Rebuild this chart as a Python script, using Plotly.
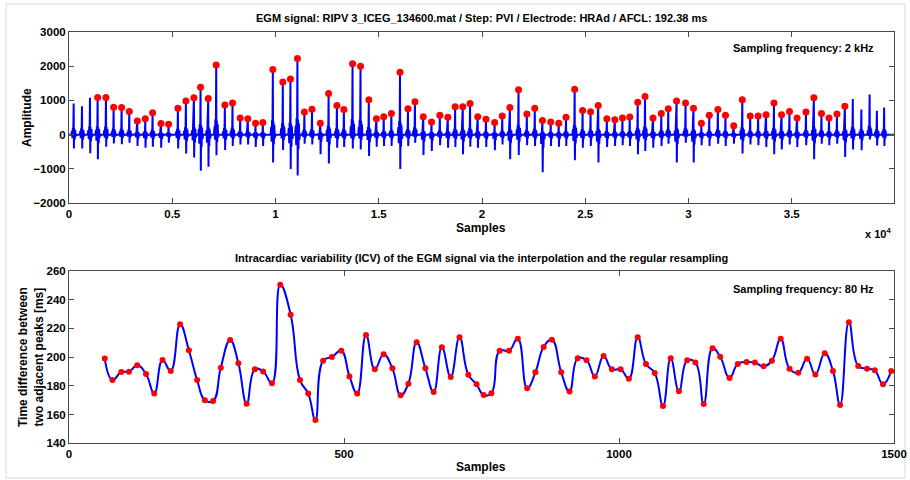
import plotly.graph_objects as go

# ---------------- data ----------------
# EGM activations with detected peaks (red dots): sample index, peak amplitude, trough amplitude
peak_pos = [1387, 1790, 2161, 2548, 2919, 3306, 3694, 4048, 4452, 4823,
            5274, 5661, 6048, 6371, 6742, 7129, 7548, 7919, 8290, 8661,
            9032, 9387, 9871, 10354, 10723, 11061, 11399, 11768, 12170, 12572,
            12974, 13312, 13730, 14116, 14518, 14887, 15241, 15611, 16029, 16415,
            16752, 17154, 17556, 17958, 18344, 18698, 19068, 19421, 19791, 20193,
            20611, 20981, 21350, 21768, 22170, 22556, 22926, 23328, 23714, 24068,
            24486, 24871, 25257, 25627, 26045, 26431, 26801, 27154, 27540, 27894,
            28280, 28682, 29019, 29421, 29856, 30240, 30623, 31006, 31422, 31789,
            32188, 32604, 32987, 33371, 33754, 34137, 34505, 34888, 35256, 35687,
            36070, 36438, 36805, 37188, 37572]
peak_amp = [1086, 1086, 800, 790, 676, 400, 467, 638, 324, 305,
            771, 981, 1076, 1381, 1057, 2029, 867, 924, 486, 467,
            333, 352, 1895, 1533, 1619, 2219, 657, 743, 333, 1200,
            848, 733, 2067, 1990, 1019, 467, 524, 619, 1819, 752,
            962, 524, 371, 562, 505, 810, 810, 905, 524, 448,
            352, 543, 790, 1305, 600, 771, 410, 371, 333, 505,
            1324, 705, 667, 848, 467, 438, 486, 514, 943, 1114,
            486, 619, 752, 981, 924, 771, 333, 562, 733, 562,
            257, 1019, 543, 543, 581, 924, 581, 676, 486, 657,
            1076, 619, 486, 600, 829]
peak_trough = [-714, -352, -257, -276, -238, -333, -381, -352, -381, -238,
               -400, -552, -667, -1048, -933, -600, -448, -333, -286, -286,
               -362, -333, -810, -448, -1000, -1190, -267, -286, -571, -838,
               -381, -362, -400, -429, -619, -352, -333, -333, -1000, -333,
               -238, -590, -476, -305, -381, -362, -571, -352, -381, -362,
               -457, -286, -714, -590, -305, -333, -1095, -333, -352, -333,
               -743, -381, -333, -810, -362, -333, -305, -333, -571, -476,
               -381, -333, -267, -810, -238, -810, -305, -333, -267, -333,
               -267, -552, -286, -305, -362, -571, -429, -286, -362, -305,
               -714, -267, -305, -267, -648]

# activations without a detected peak marker
extra_pos = [226, 629, 1016, 37955, 38371, 38770, 39121, 39473]
extra_amp = [905, 830, 1076, 1038, 733, 1171, 695, 790]
extra_trough = [-400, -400, -543, -429, -457, -143, -314, -333]

# ICV series (80 Hz resampled): sample index and interval [ms]
icv_x = [65, 79, 95, 109, 124, 140, 155, 170, 185, 202,
         218, 233, 247, 262, 276, 293, 308, 323, 338, 353,
         369, 384, 403, 420, 435, 448, 462, 478, 495, 510,
         524, 540, 556, 572, 588, 603, 617, 632, 648, 663,
         678, 694, 710, 726, 741, 754, 768, 783, 800, 816,
         833, 848, 863, 878, 895, 910, 925, 941, 956, 972,
         987, 1003, 1018, 1034, 1049, 1065, 1080, 1094, 1109, 1124,
         1139, 1154, 1170, 1184, 1201, 1216, 1232, 1247, 1263, 1278,
         1294, 1310, 1326, 1342, 1357, 1374, 1389, 1402, 1418, 1435,
         1451, 1465, 1480, 1495]
icv_y = [199, 184, 189.7, 189.9, 194.3, 188.3, 174.6, 198, 190.4, 223,
         204.8, 184, 170, 169.5, 192.7, 212, 195.7, 167.6, 191.5, 190,
         181.9, 250.5, 229.6, 184, 174.6, 156.2, 197.5, 200.1, 204.5, 186.6,
         174.6, 215.4, 191.5, 202, 192.2, 173.4, 181.5, 210.3, 192.2, 175.7,
         206.9, 186.2, 213.8, 187.8, 181.1, 173.6, 174.8, 204.5, 204.5, 212.9,
         178.3, 189.4, 207.1, 212.2, 189.4, 176, 199.2, 197.8, 186.6, 200.8,
         191.5, 191.5, 185, 213.8, 195.2, 189, 166, 199.2, 176.2, 197.8,
         196.2, 167.4, 206.2, 200.3, 185.5, 195.2, 196.6, 196.2, 193.6, 197.5,
         212.9, 192, 189.2, 198.9, 188, 202.7, 190.4, 166.7, 224.3, 193.8,
         192, 190.8, 181.1, 190.4]

top_xticks = [0, 5000, 10000, 15000, 20000, 25000, 30000, 35000]
top_xticklabels = ["0", "0.5", "1", "1.5", "2", "2.5", "3", "3.5"]
top_yticks = [-2000, -1000, 0, 1000, 2000, 3000]
bot_xticks = [0, 500, 1000, 1500]
bot_yticks = [140, 160, 180, 200, 220, 240, 260]
n_samples = 39950

# ---------------- build EGM trace from activations ----------------
off = [-110, -80, -60, -40, -20, 0, 12, 30, 50, 70, 95, 125]
acts = sorted(list(zip(peak_pos, peak_amp, peak_trough)) +
              list(zip(extra_pos, extra_amp, extra_trough)))
sx, sy = [0], [0]
for p, a, t in acts:
    vals = [0, 0.12 * a, -0.25 * abs(t), 0.22 * a, -0.1 * abs(t), a, t,
            0.2 * a, -0.35 * abs(t), 0.15 * a, -0.12 * abs(t), 0]
    for o, v in zip(off, vals):
        sx.append(p + o)
        sy.append(v)
sx.append(n_samples)
sy.append(0)

# ---------------- figure ----------------
W, H = 910, 480
ML, MR = 69, 16
PW = W - ML - MR


def px2x(px):
    return (px - ML) / PW


def py2y(py):
    return 1 - py / H


FONT = "Liberation Sans, Arial, Helvetica, sans-serif"
AX = "#4a4a4a"

fig = go.Figure()
fig.add_trace(go.Scatter(x=sx, y=sy, mode="lines",
                         line=dict(color="#0000ff", width=2),
                         xaxis="x", yaxis="y", hoverinfo="skip"))
fig.add_trace(go.Scatter(x=peak_pos, y=peak_amp, mode="markers",
                         marker=dict(color="#ff0000", size=7, line=dict(width=0)),
                         xaxis="x", yaxis="y"))
fig.add_trace(go.Scatter(x=icv_x, y=icv_y, mode="lines",
                         line=dict(color="#0000ff", width=2, shape="spline", smoothing=1.3),
                         xaxis="x2", yaxis="y2"))
fig.add_trace(go.Scatter(x=icv_x, y=icv_y, mode="markers",
                         marker=dict(color="#ff0000", size=6, line=dict(width=0)),
                         xaxis="x2", yaxis="y2"))

axcommon = dict(showline=True, linecolor=AX, linewidth=1, mirror="ticks",
                ticks="inside", ticklen=5, tickcolor=AX, showgrid=False,
                zeroline=False, automargin=False,
                tickfont=dict(family=FONT, size=11.5, color="#000", weight="bold"))

top_dom = [py2y(203.3), py2y(31.7)]
bot_dom = [py2y(443.3), py2y(271)]

fig.update_layout(
    width=W, height=H, autosize=False,
    margin=dict(l=ML, r=MR, t=0, b=0, pad=0, autoexpand=False),
    paper_bgcolor="white", plot_bgcolor="white",
    showlegend=False,
    xaxis=dict(axcommon, range=[0, n_samples], tickvals=top_xticks,
               ticktext=top_xticklabels, anchor="y", domain=[0, 1]),
    yaxis=dict(axcommon, range=[-2000, 3000], tickvals=top_yticks,
               anchor="x", domain=top_dom),
    xaxis2=dict(axcommon, range=[0, 1500], tickvals=bot_xticks,
                anchor="y2", domain=[0, 1]),
    yaxis2=dict(axcommon, range=[140, 260], tickvals=bot_yticks,
                anchor="x2", domain=bot_dom),
)

ann = []


def add(text, px, py, size=12, xanchor="center", angle=0):
    ann.append(dict(text=text, x=px2x(px), y=py2y(py), xref="paper", yref="paper",
                    xanchor=xanchor, yanchor="middle", showarrow=False, textangle=angle,
                    font=dict(family=FONT, size=size, color="#000", weight="bold")))


add("EGM signal: RIPV 3_ICEG_134600.mat / Step: PVI / Electrode: HRAd / AFCL: 192.38 ms", 481, 18, 11)
add("Samples", 481, 228, 12)
add("x 10<sup>4</sup>", 893, 233, 11, xanchor="right")
add("Amplitude", 27, 118, 12, angle=-90)
add("Sampling frequency: 2 kHz", 876, 48, 11, xanchor="right")
add("Intracardiac variability (ICV) of the EGM signal via the interpolation and the regular resampling", 481, 258, 11)
add("Samples", 481, 467, 12)
add("Time difference between<br>two adjacent peaks [ms]", 31, 357, 12, angle=-90)
add("Sampling frequency: 80 Hz", 876, 289, 11, xanchor="right")
fig.update_layout(annotations=ann)

fig.add_shape(type="rect", xref="paper", yref="paper",
              x0=px2x(6), x1=px2x(905), y0=py2y(478), y1=py2y(4),
              line=dict(color="#d8d8d8", width=1), fillcolor="rgba(0,0,0,0)", layer="below")

fig.write_html("out.html")
